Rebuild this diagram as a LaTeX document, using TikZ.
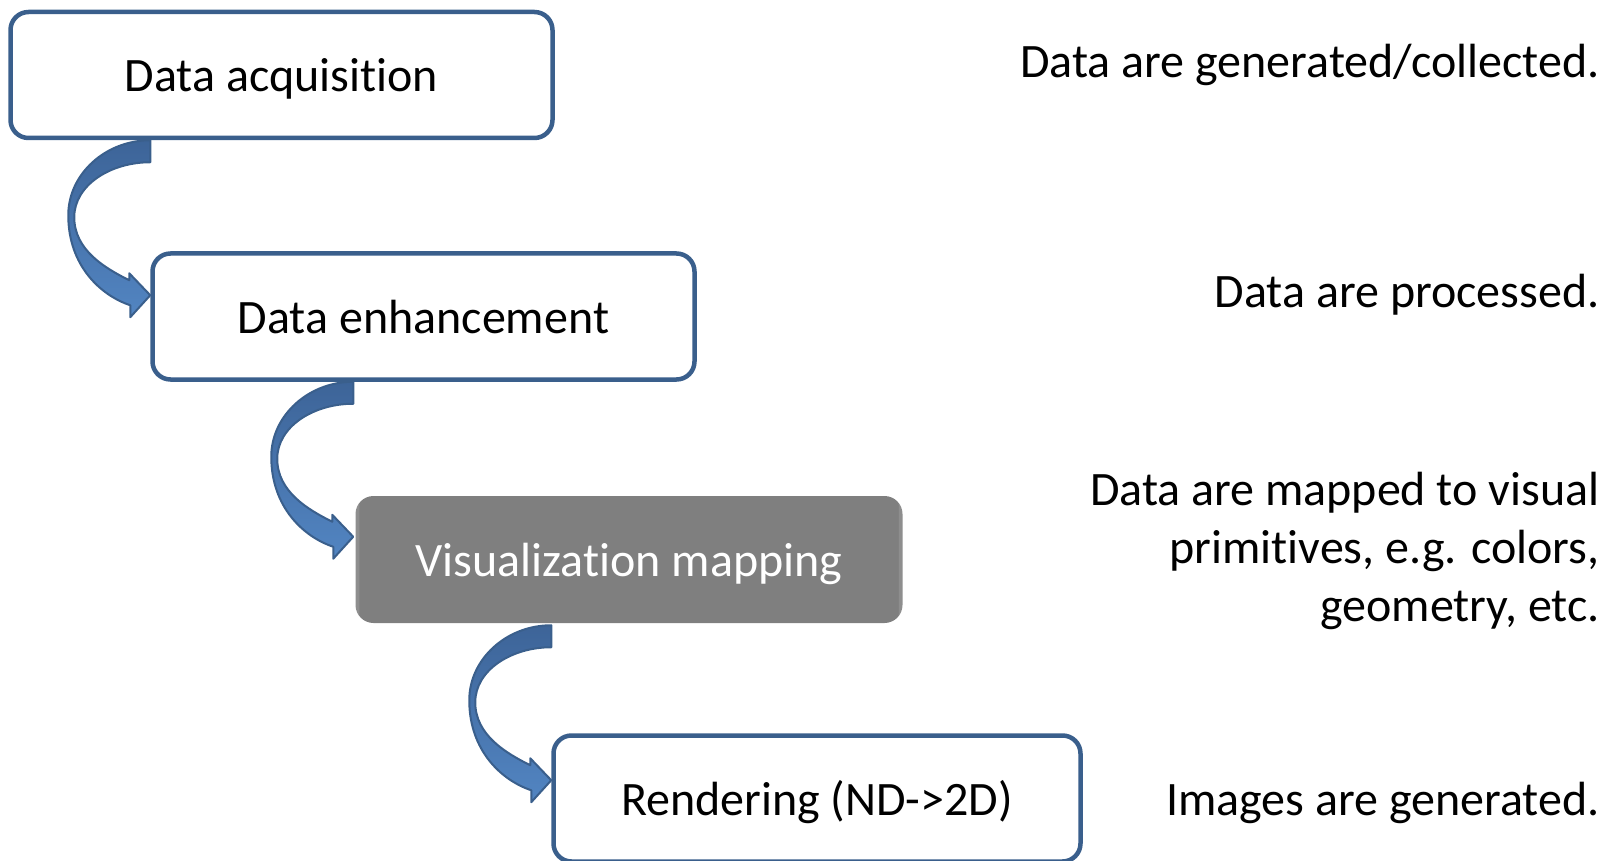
\documentclass[tikz,border=0pt]{standalone}
\usepackage{fontspec}
\setmainfont{Carlito}[Ligatures=CommonOff]
\usepackage{tikz}
\usetikzlibrary{positioning, calc}
\definecolor{boxblue}{HTML}{3A5F8C}
\definecolor{arrowtop}{HTML}{3D6498}
\definecolor{arrowbot}{HTML}{5285C2}
\definecolor{mapgray}{HTML}{7F7F7F}
\tikzset{
  stage/.style={draw=boxblue, line width=4.5pt, rounded corners=18pt, fill=white,
    minimum width=542pt, minimum height=126pt, text height=40pt, text depth=7pt,
    font=\fontsize{48}{58}\selectfont},
  note/.style={align=right, anchor=base east, font=\fontsize{48}{58}\selectfont}
}
% curved block arrow from the bottom of #1 to the left side of #2
\newcommand{\bendarrow}[2]{%
  \begin{scope}[shift={(#2.west |- #1.south)}]
    \draw[line width=2pt, draw=boxblue, line join=round,
      top color=arrowtop, bottom color=arrowbot]
      (0,0) .. controls (-45,0) and (-82,34) .. (-82,75)
      .. controls (-82,125) and (-50,155) .. (-20,165)
      -- (-20,177) -- (0,155) -- (-21,133) -- (-21,140)
      .. controls (-45,128) and (-76,110) .. (-76,77)
      .. controls (-76,45) and (-40,22) .. (0,22) -- cycle;
  \end{scope}}

\begin{document}
\begin{tikzpicture}[x=1pt, y=-1pt]
  \clip (0,0) rectangle (1610,861);

  \node[stage] (acq) at (281.5,75) {Data acquisition};
  \node[stage, below right=111pt and 142pt of acq.south west] (enh) {Data enhancement};
  \node[stage, draw=none, fill=mapgray, text=white, minimum width=547pt, minimum height=127pt,
    below right=112pt and 203pt of enh.south west] (map) {Visualization mapping};
  \draw[draw=white, opacity=0.12, line width=6pt, rounded corners=14pt]
    ([shift={(3pt,-3pt)}]map.south west) rectangle ([shift={(-3pt,3pt)}]map.north east);
  \node[stage, minimum width=527pt,
    below right=108pt and 198pt of map.south west] (ren) {Rendering (ND->2D)};

  \bendarrow{acq}{enh}
  \bendarrow{enh}{map}
  \bendarrow{map}{ren}

  \node[note] (n1) at (1603,78) {Data are generated/collected.};
  \node[note] (n2) at (1603,307) {Data are processed.};
  \node[note] (n3) at (1603,621) {Data are mapped to visual\\primitives, e.g. colors,\\geometry, etc.};
  \node[note] (n4) at (1603,815) {Images are generated.};
\end{tikzpicture}
\end{document}
